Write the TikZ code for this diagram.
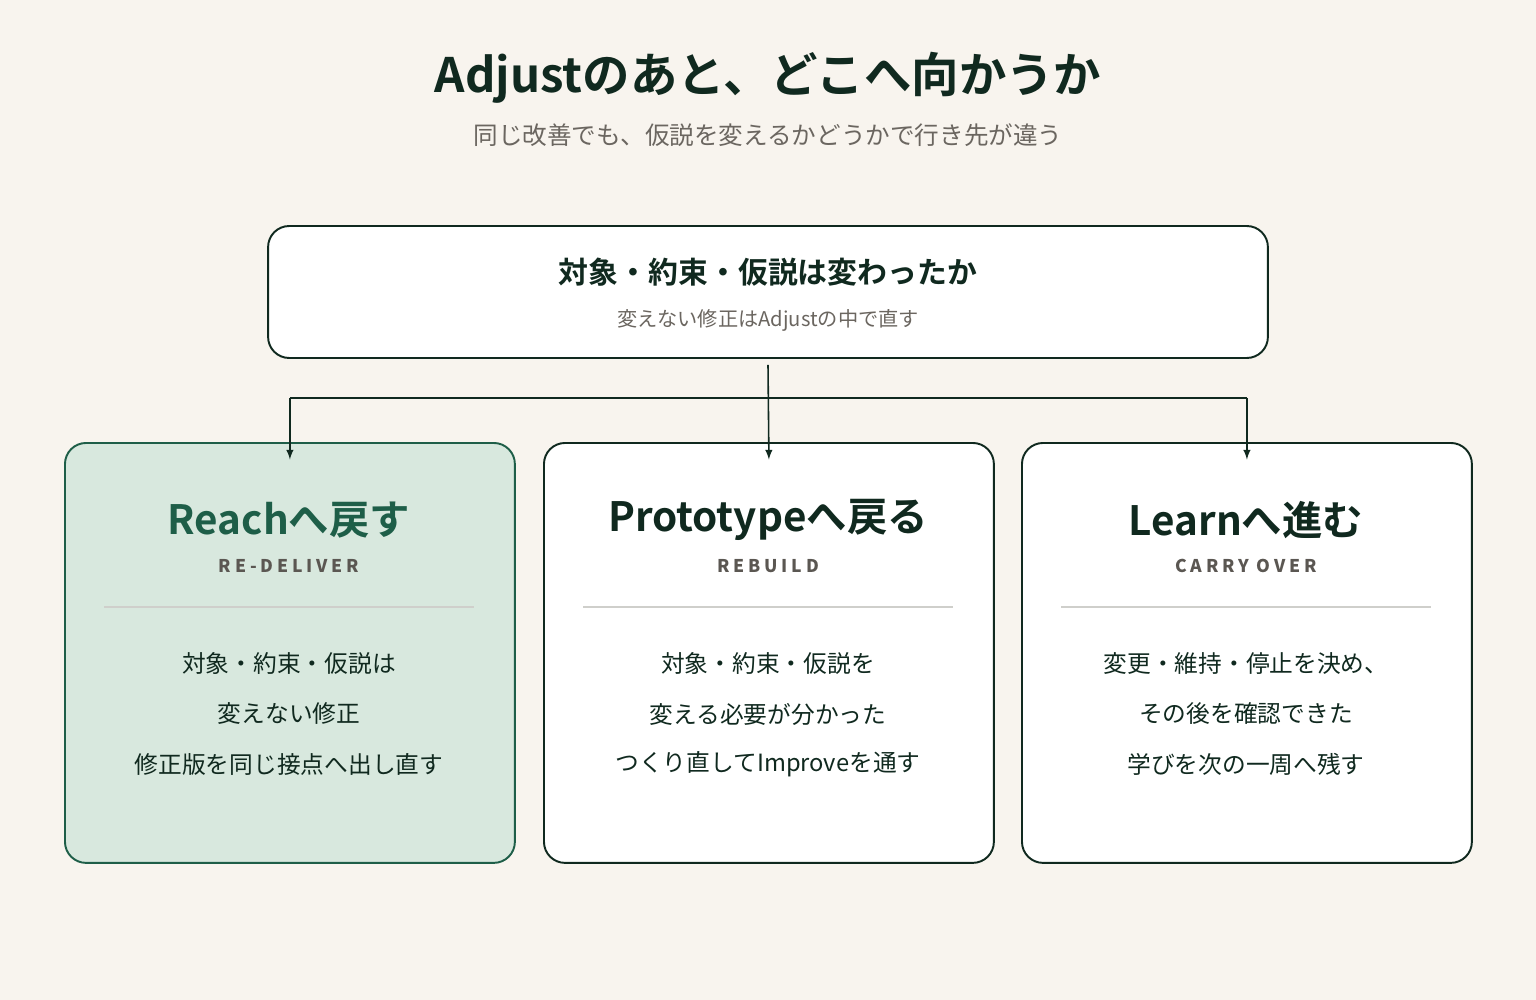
\documentclass[tikz,border=0pt]{standalone}
\usepackage{fontspec}
\setmainfont{Noto Sans CJK JP}
\newfontfamily\jpbold{Noto Sans CJK JP Bold}
\usetikzlibrary{positioning}
\definecolor{bgc}{HTML}{F8F4EE}
\definecolor{ink}{HTML}{10291F}
\definecolor{greytext}{HTML}{6B6660}
\definecolor{greenfill}{HTML}{D8E8DE}
\definecolor{greenline}{HTML}{1E5E48}
\definecolor{rulec}{HTML}{CFCFCB}
\tikzset{
  card/.style={draw=ink, line width=1.1pt, fill=white, rounded corners=12pt, minimum width=9cm, minimum height=8.4cm, anchor=north west},
  cardtitle/.style={font=\jpbold\fontsize{23}{26}\selectfont, text=ink},
  cardtag/.style={font=\fontsize{10}{12}\selectfont\bfseries\addfontfeature{LetterSpace=22}, text=greytext!85!black},
  cardbody/.style={font=\fontsize{13.5}{16}\selectfont, text=ink},
  link/.style={draw=ink, line width=0.9pt, -latex}
}
\begin{document}
\begin{tikzpicture}[x=0.02cm, y=-0.02cm]
  \fill[bgc] (0,0) rectangle (1536,1000);
  % heading
  \node[font=\jpbold\fontsize{27}{30}\selectfont, text=ink] (title) at (768,78) {Adjustのあと、どこへ向かうか};
  \node[font=\fontsize{14}{16}\selectfont, text=greytext] (subtitle) at (768,135) {同じ改善でも、仮説を変えるかどうかで行き先が違う};
  % question box
  \node[draw=ink, line width=1.1pt, fill=white, rounded corners=12pt, minimum width=20cm, minimum height=2.64cm] (question) at (768,292) {};
  \node[font=\jpbold\fontsize{17}{20}\selectfont, text=ink] (qtitle) at (768,272) {対象・約束・仮説は変わったか};
  \node[font=\fontsize{11.5}{14}\selectfont, text=greytext] (qsub) at (768,320) {変えない修正はAdjustの中で直す};
  % cards
  \node[card, draw=greenline, fill=greenfill] (reach) at (64,442) {};
  \node[card] (proto) at (543,442) {};
  \node[card] (learn) at (1021,442) {};
  % card texts
  \node[cardtitle, text=greenline] (reachT) at (289,520) {Reachへ戻す};
  \node[cardtag] at (289,566) {RE-DELIVER};
  \draw[rulec, line width=0.8pt] (104,607) -- (474,607);
  \node[cardbody] at (289,664) {対象・約束・仮説は};
  \node[cardbody] at (289,714) {変えない修正};
  \node[cardbody] at (289,764) {修正版を同じ接点へ出し直す};
  \node[cardtitle] (protoT) at (768,520) {Prototypeへ戻る};
  \node[cardtag] at (768,566) {REBUILD};
  \draw[rulec, line width=0.8pt] (583,607) -- (953,607);
  \node[cardbody] at (768,664) {対象・約束・仮説を};
  \node[cardbody] at (768,714) {変える必要が分かった};
  \node[cardbody] at (768,764) {つくり直してImproveを通す};
  \node[cardtitle] (learnT) at (1246,520) {Learnへ進む};
  \node[cardtag] at (1246,566) {CARRY OVER};
  \draw[rulec, line width=0.8pt] (1061,607) -- (1431,607);
  \node[cardbody] at (1246,664) {変更・維持・停止を決め、};
  \node[cardbody] at (1246,714) {その後を確認できた};
  \node[cardbody] at (1246,764) {学びを次の一周へ残す};
  % connectors
  \coordinate (fork) at (768,398);
  \draw[link] (question.south) ++(0,6) -- ([yshift=-10pt]proto.north);
  \draw[draw=ink, line width=0.9pt] (fork -| reach.north) -- (fork -| learn.north);
  \draw[link] (fork -| reach.north) -- ([yshift=-10pt]reach.north);
  \draw[link] (fork -| learn.north) -- ([yshift=-10pt]learn.north);
\end{tikzpicture}
\end{document}
